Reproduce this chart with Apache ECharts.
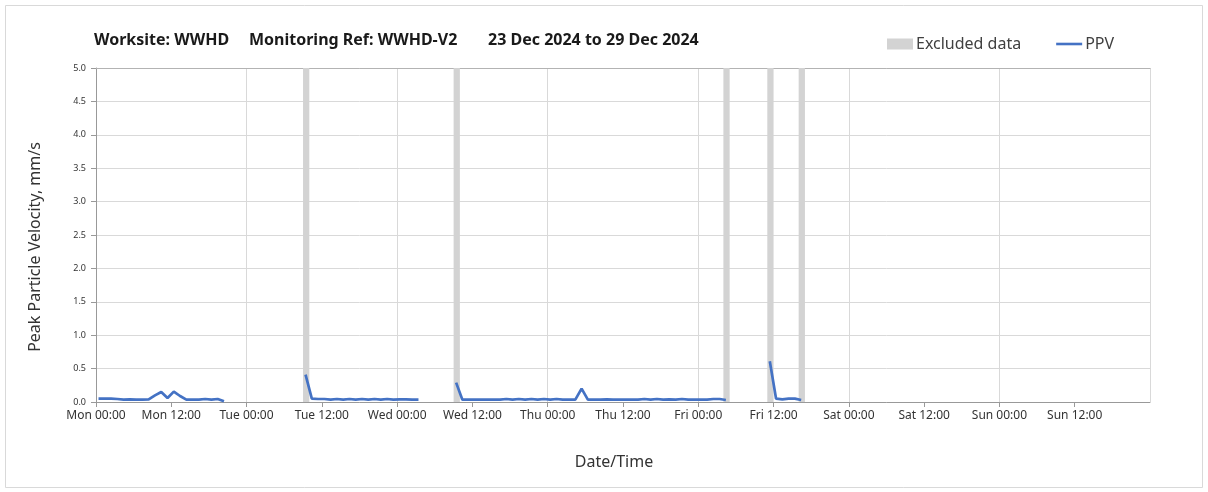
<!DOCTYPE html>
<html>
<head>
<meta charset="utf-8">
<title>PPV WWHD-V2</title>
<script src="https://cdn.jsdelivr.net/npm/echarts@6/dist/echarts.min.js"></script>
<style>
html,body{margin:0;padding:0;background:#fff;}
#chart{width:1208px;height:492px;}
</style>
</head>
<body>
<div id="chart"></div>
<script>
// x axis is hours from Mon 23 Dec 2024 00:00
var dayNames = ['Mon','Tue','Wed','Thu','Fri','Sat','Sun'];
var xMax = 168, xStep = 12;
var yMax = 5, yStep = 0.5;

// PPV readings (mm/s), logged hourly; each block starts at the given hour
var seg1Start = 0.4;
var seg1 = [0.05,0.05,0.05,0.045,0.035,0.04,0.035,0.035,0.04,0.1,0.15,0.06,0.155,0.09,0.035,0.035,0.035,0.045,0.035,0.045,0.01];
var seg2Start = 33.4;
var seg2 = [0.41,0.05,0.045,0.045,0.035,0.045,0.035,0.045,0.035,0.045,0.035,0.045,0.035,0.045,0.035,0.04,0.04,0.035,0.035];
var seg3Start = 57.4;
var seg3 = [0.29,0.035,0.035,0.035,0.035,0.035,0.035,0.035,0.045,0.035,0.045,0.035,0.045,0.035,0.045,0.035,0.045,0.035,0.035,0.035,
            0.2,0.035,0.035,0.035,0.04,0.035,0.035,0.035,0.035,0.035,0.045,0.035,0.045,0.035,0.04,0.035,0.045,0.035,0.035,0.035,
            0.035,0.045,0.045,0.03];
var seg4Start = 107.4;
var seg4 = [0.61,0.05,0.04,0.05,0.05,0.03];

// excluded periods (hours)
var excludedFrom = [33, 57, 100, 107, 112];
var excludedTo   = [34, 58, 101, 108, 113];

var ppvData = [];
function addSeg(start, vals){
	for (var i = 0; i < vals.length; i++) { ppvData.push([start + i, vals[i]]); }
	ppvData.push([start + vals.length - 0.5, null]); // break the line between blocks
}
addSeg(seg1Start, seg1);
addSeg(seg2Start, seg2);
addSeg(seg3Start, seg3);
addSeg(seg4Start, seg4);

var excludedAreas = [];
for (var k = 0; k < excludedFrom.length; k++) {
	excludedAreas.push([{xAxis: excludedFrom[k]}, {xAxis: excludedTo[k]}]);
}

var fnt = 'Noto Sans';
var gridCol = '#d9d9d9';
var ttl = {fontFamily: fnt, fontSize: 16, fontWeight: 'bold', color: '#1a1a1a'};
var chart = echarts.init(document.getElementById('chart'), null, {renderer: 'canvas'});
var option = {
	animation: false,
	backgroundColor: '#fff',
	title: [
		{text: 'Worksite: WWHD', left: 94, top: 32, padding: 0, textStyle: ttl},
		{text: 'Monitoring Ref: WWHD-V2', left: 249, top: 32, padding: 0, textStyle: ttl},
		{text: '23 Dec 2024 to 29 Dec 2024', left: 488, top: 32, padding: 0, textStyle: ttl}
	],
	legend: {
		left: 887, top: 36, padding: 0, itemWidth: 26, itemHeight: 11, itemGap: 35,
		textStyle: {fontFamily: fnt, fontSize: 16, color: '#404040', padding: [0, 0, 0, -2]},
		data: [
			{name: 'Excluded data', icon: 'rect'},
			{name: 'PPV', icon: 'path://M0,0M0,4.2h26v2.6h-26zM26,11', itemStyle: {color: '#4472c4'}}
		]
	},
	grid: {left: 96, right: 58, top: 68, bottom: 90},
	xAxis: [{
		type: 'value', min: 0, max: xMax, interval: xStep,
		name: 'Date/Time', nameLocation: 'middle', nameGap: 52,
		nameTextStyle: {fontFamily: fnt, fontSize: 16, color: '#333', padding: [0, 18, 0, 0]},
		axisLine: {show: true, lineStyle: {color: '#999', width: 1}},
		axisTick: {show: true, inside: false, length: 5, lineStyle: {color: '#999'}},
		axisLabel: {
			fontFamily: fnt, fontSize: 12, color: '#333', margin: 8, showMaxLabel: false,
			formatter: function (v) {
				if (v >= xMax) return '';
				var d = Math.floor(v / 24), h = v % 24;
				return dayNames[d] + ' ' + (h < 10 ? '0' + h : h) + ':00';
			}
		},
		splitLine: {show: false}
	}, {
		// day gridlines + top frame
		type: 'value', min: 0, max: xMax, interval: 24, position: 'top',
		axisLine: {show: true, lineStyle: {color: '#b3b3b3', width: 1}},
		axisTick: {show: false}, axisLabel: {show: false},
		splitLine: {show: true, lineStyle: {color: gridCol, width: 1}}
	}],
	yAxis: {
		type: 'value', min: 0, max: yMax, interval: yStep,
		name: 'Peak Particle Velocity, mm/s', nameLocation: 'middle', nameGap: 53,
		nameTextStyle: {fontFamily: fnt, fontSize: 16, color: '#333', padding: [0, 24, 0, 0]},
		axisLine: {show: true, lineStyle: {color: '#999', width: 1}},
		axisTick: {show: true, length: 5, lineStyle: {color: '#999'}},
		axisLabel: {fontFamily: fnt, fontSize: 9, color: '#333', margin: 10, formatter: function (v) { return v.toFixed(1); }},
		splitLine: {show: true, lineStyle: {color: gridCol, width: 1}}
	},
	series: [{
		name: 'Excluded data', type: 'line', data: [], symbol: 'none',
		itemStyle: {color: '#d3d3d3'}, lineStyle: {color: '#d3d3d3'},
		markArea: {silent: true, itemStyle: {color: '#d3d3d3'}, data: excludedAreas}
	}, {
		name: 'PPV', type: 'line', data: ppvData, symbol: 'none', showSymbol: false,
		connectNulls: false, z: 5,
		itemStyle: {color: '#4472c4'}, lineStyle: {color: '#4472c4', width: 2.7}
	}],
	graphic: [{
		type: 'rect', silent: true, z: -1,
		shape: {x: 5.5, y: 5.5, width: 1197, height: 482},
		style: {fill: null, stroke: '#d9d9d9', lineWidth: 1}
	}]
};
chart.setOption(option);
</script>
</body>
</html>
